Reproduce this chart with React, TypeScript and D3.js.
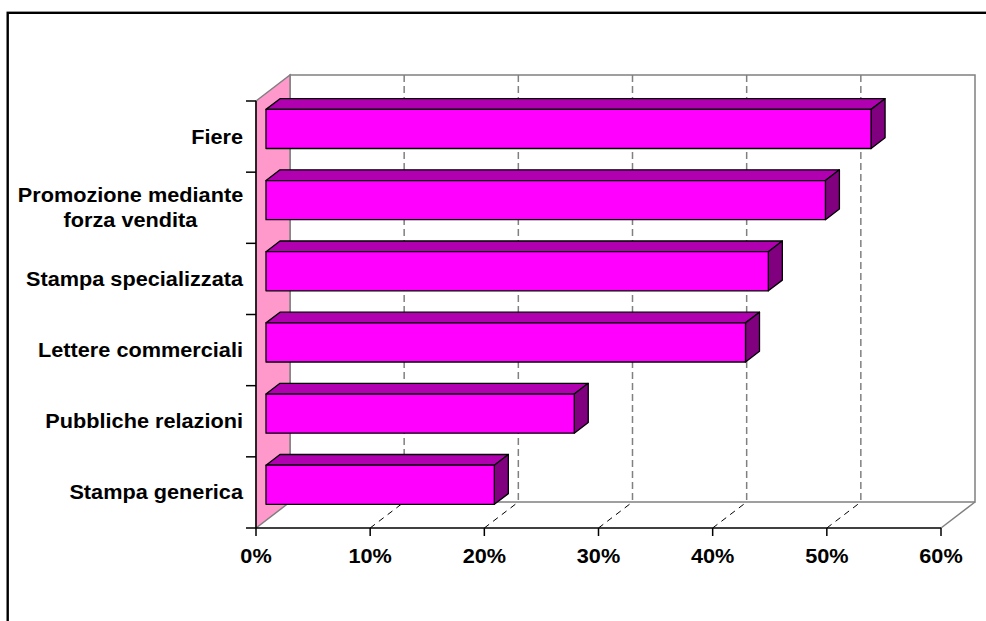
import React from "react";
import * as d3 from "d3";

const categories = [
  ["Fiere"],
  ["Promozione mediante", "forza vendita"],
  ["Stampa specializzata"],
  ["Lettere commerciali"],
  ["Pubbliche relazioni"],
  ["Stampa generica"],
];
const values = [53, 49, 44, 42, 27, 20];
const tickValues = [0, 10, 20, 30, 40, 50, 60];

const W = 986;
const H = 621;

export default function App() {
  const x0 = 256, x1 = 941;
  const yTop = 101, yBot = 528;
  const DX = 34, DY = -26;
  const x = d3.scaleLinear().domain([0, 60]).range([x0, x1]);
  const y = d3
    .scaleBand<number>()
    .domain(d3.range(categories.length))
    .range([yTop, yBot])
    .paddingInner(0.45)
    .paddingOuter(0.225);
  const zf = 10 / 34, zb = 24 / 34;
  const P = (v: number, yy: number, z: number): [number, number] => [x(v) + z * DX, yy + z * DY];
  const pts = (arr: [number, number][]) => arr.map((p) => p.join(",")).join(" ");
  const step = y.step();
  const font = "'Liberation Sans', Arial, sans-serif";
  const SX = 1.085;

  return (
    <svg width={W} height={H} style={{ position: "absolute", left: 0, top: 0, display: "block", background: "#fff" }}>
      <rect x={0} y={0} width={W} height={H} fill="#fff" />
      <rect x={7.7} y={12.8} width={1100} height={800} fill="none" stroke="#000" strokeWidth={2.4} />
      {/* back wall */}
      <polygon
        points={pts([P(0, yTop, 1), P(60, yTop, 1), P(60, yBot, 1), P(0, yBot, 1)])}
        fill="#fff"
        stroke="#808080"
        strokeWidth={1.5}
      />
      {/* left wall */}
      <polygon
        points={pts([P(0, yTop, 0), P(0, yTop, 1), P(0, yBot, 1), P(0, yBot, 0)])}
        fill="#FF99CC"
        stroke="#808080"
        strokeWidth={1.5}
      />
      {/* floor right edge */}
      <line x1={x(60)} y1={yBot} x2={x(60) + DX} y2={yBot + DY} stroke="#808080" strokeWidth={1.5} />
      {/* gridlines */}
      {tickValues.slice(1, -1).map((t) => (
        <g key={t}>
          <line
            x1={x(t) + DX}
            x2={x(t) + DX}
            y1={yTop + DY}
            y2={yBot + DY}
            stroke="#808080"
            strokeWidth={1.5}
            strokeDasharray="7,4"
          />
          <line
            x1={x(t)}
            y1={yBot}
            x2={x(t) + DX}
            y2={yBot + DY}
            stroke="#000"
            strokeWidth={1}
            strokeDasharray="6,5"
          />
        </g>
      ))}
      {/* axes */}
      <line x1={x0} x2={x1} y1={yBot} y2={yBot} stroke="#000" strokeWidth={1.5} />
      <line x1={x0} x2={x0} y1={yTop} y2={yBot} stroke="#000" strokeWidth={1.5} />
      {tickValues.map((t) => (
        <g key={t}>
          <line x1={x(t)} x2={x(t)} y1={yBot} y2={yBot + 8} stroke="#000" strokeWidth={1.5} />
          <g transform={`translate(${x(t)},0) scale(${SX},1)`}>
            <text
              x={0}
              y={563}
              textAnchor="middle"
              fontFamily={font}
              fontWeight="bold"
              fontSize={20}
              fill="#000"
            >
              {t}%
            </text>
          </g>
        </g>
      ))}
      {d3.range(categories.length + 1).map((i) => (
        <line
          key={i}
          x1={x0 - 10}
          x2={x0}
          y1={yTop + i * step}
          y2={yTop + i * step}
          stroke="#000"
          strokeWidth={1.5}
        />
      ))}
      {/* bars */}
      {values.map((v, i) => {
        const t = y(i)!;
        const b = t + y.bandwidth();
        const front: [number, number][] = [P(0, t, zf), P(v, t, zf), P(v, b, zf), P(0, b, zf)];
        const top: [number, number][] = [P(0, t, zf), P(0, t, zb), P(v, t, zb), P(v, t, zf)];
        const side: [number, number][] = [P(v, t, zf), P(v, t, zb), P(v, b, zb), P(v, b, zf)];
        return (
          <g key={i} stroke="#000" strokeWidth={1.3} strokeLinejoin="round">
            <polygon points={pts(top)} fill="#B000B0" />
            <polygon points={pts(side)} fill="#800080" />
            <polygon points={pts(front)} fill="#FF00FF" />
          </g>
        );
      })}
      {/* category labels */}
      {categories.map((lines, i) => {
        const cy = yTop + (i + 0.5) * step;
        const lh = 25;
        const cx = lines.length > 1 ? 130.5 : 243;
        const anchor = lines.length > 1 ? "middle" : "end";
        return (
          <g key={i} transform={`translate(${cx},0) scale(${SX},1)`}>
            <text textAnchor={anchor} fontFamily={font} fontWeight="bold" fontSize={20} fill="#000">
              {lines.map((l, j) => (
                <tspan key={j} x={0} y={cy + 7 + (j - (lines.length - 1) / 2) * lh}>
                  {l}
                </tspan>
              ))}
            </text>
          </g>
        );
      })}
    </svg>
  );
}
